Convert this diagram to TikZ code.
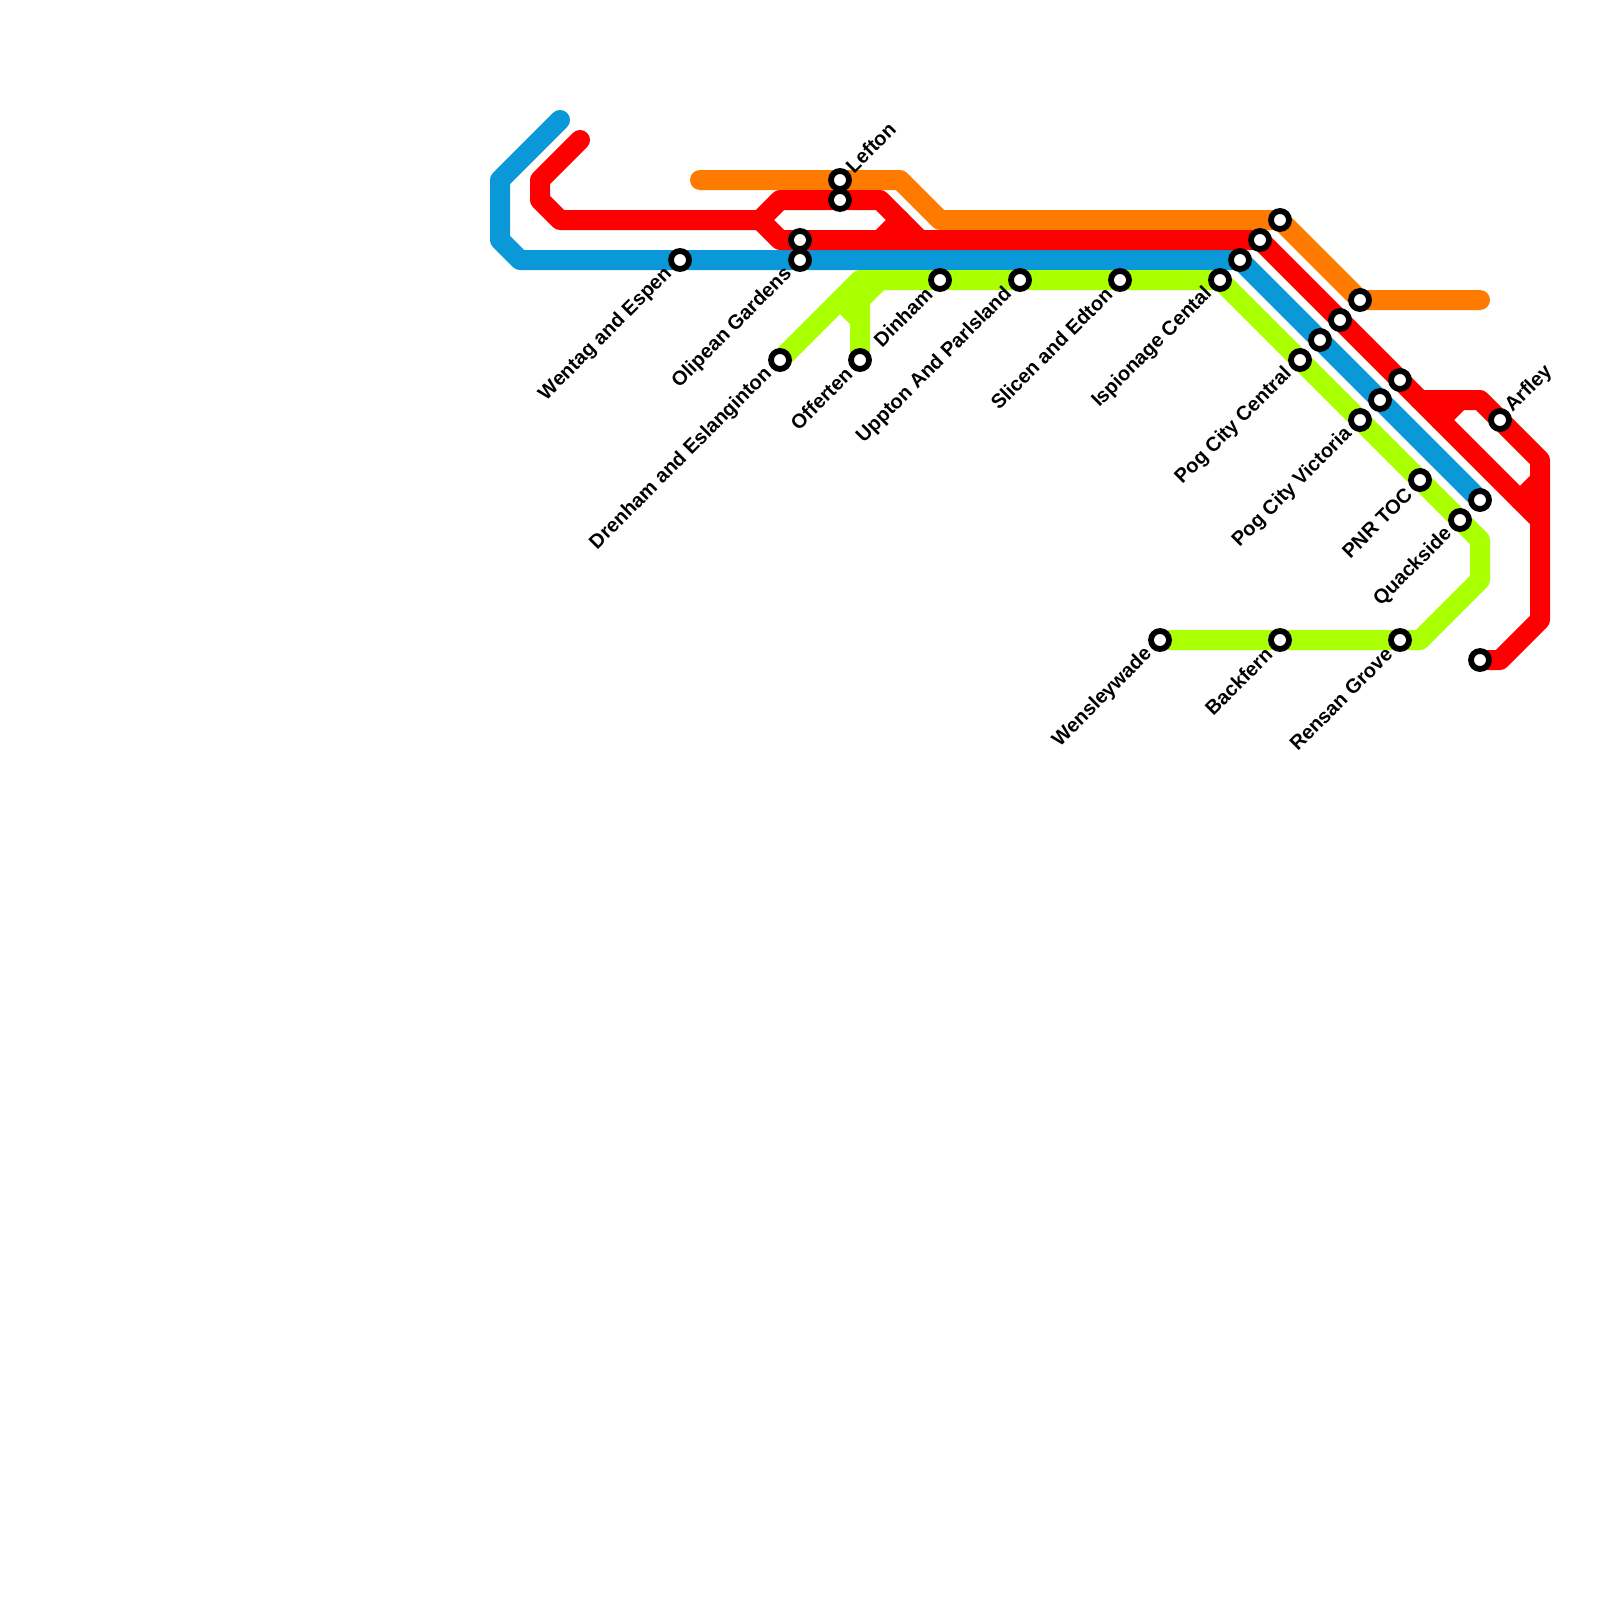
\documentclass[tikz,border=0pt]{standalone}
\usepackage{fontspec}
\setmainfont{Liberation Sans}[BoldFont={Liberation Sans Bold}]
\usetikzlibrary{backgrounds}
\definecolor{lorange}{HTML}{FF7B00}
\definecolor{lred}{HTML}{FF0000}
\definecolor{lblue}{HTML}{0B98D8}
\definecolor{lgreen}{HTML}{AAFF00}
\tikzset{
  metro/.style={line width=10pt,line cap=round,line join=round},
  stn/.style={circle,draw=black,fill=white,line width=2.9pt,minimum size=9pt,inner sep=0pt,outer sep=0pt},
  lbl/.style={font=\fontsize{10}{12}\selectfont\bfseries,text=black,inner sep=0pt,outer sep=0pt,rotate=45},
  lblL/.style={lbl,anchor=east},
  lblR/.style={lbl,anchor=west}
}
\newcommand{\stnL}[4]{\node[stn] (#1) at (#2,#3) {};\node[lblL] (#1T) at ([shift={(-11.2,11.2)}]#1.center) {#4};}
\newcommand{\stnR}[4]{\node[stn] (#1) at (#2,#3) {};\node[lblR] (#1T) at ([shift={(9,-11)}]#1.center) {#4};}
\newcommand{\stnP}[3]{\node[stn] (#1) at (#2,#3) {};}
\begin{document}
\begin{tikzpicture}[x=0.5pt,y=-0.5pt]
\useasboundingbox (0,0) rectangle (1600,1600);
% stations
\stnL{wentag}{680}{260}{Wentag and Espen}
\stnL{olipean}{800}{260}{Olipean Gardens}
\stnP{olipeanR}{800}{240}
\stnR{lefton}{840}{180}{Lefton}
\stnP{leftonR}{840}{200}
\stnL{drenham}{780}{360}{Drenham and Eslanginton}
\stnL{offerten}{860}{360}{Offerten}
\stnL{dinham}{940}{280}{Dinham}
\stnL{uppton}{1020}{280}{Uppton And Parlsland}
\stnL{slicen}{1120}{280}{Slicen and Edton}
\stnL{ispionage}{1220}{280}{Ispionage Cental}
\stnP{ispB}{1240}{260}
\stnP{ispR}{1260}{240}
\stnP{ispO}{1280}{220}
\stnL{pogc}{1300}{360}{Pog City Central}
\stnP{pogcB}{1320}{340}
\stnP{pogcR}{1340}{320}
\stnP{pogcO}{1360}{300}
\stnL{pogv}{1360}{420}{Pog City Victoria}
\stnP{pogvB}{1380}{400}
\stnP{pogvR}{1400}{380}
\stnL{pnr}{1420}{480}{PNR TOC}
\stnL{quack}{1460}{520}{Quackside}
\stnP{quackB}{1480}{500}
\stnR{arfley}{1500}{420}{Arfley}
\stnL{wensley}{1160}{640}{Wensleywade}
\stnL{backfern}{1280}{640}{Backfern}
\stnL{rensan}{1400}{640}{Rensan Grove}
\stnP{redend}{1480}{660}
% waypoints
\coordinate (b0) at (560,120); \coordinate (b1) at (500,180); \coordinate (b2) at (500,240); \coordinate (b3) at (520,260);
\coordinate (o0) at (700,180); \coordinate (o1) at (900,180); \coordinate (o2) at (940,220); \coordinate (o3) at (1480,300);
\coordinate (r0) at (580,140); \coordinate (r1) at (540,180); \coordinate (r2) at (540,200); \coordinate (r3) at (560,220);
\coordinate (r4) at (760,220); \coordinate (r5) at (780,200); \coordinate (r6) at (880,200); \coordinate (r7) at (920,240);
\coordinate (r8) at (780,240); \coordinate (r9) at (900,220); \coordinate (r10) at (880,240);
\coordinate (r11) at (1420,400); \coordinate (r12) at (1480,400); \coordinate (r13) at (1540,460); \coordinate (r14) at (1540,620);
\coordinate (r15) at (1500,660); \coordinate (r16) at (1540,520); \coordinate (r17) at (1440,420); \coordinate (r18) at (1460,400);
\coordinate (r19) at (1520,500); \coordinate (r20) at (1540,480);
\coordinate (g0) at (860,280); \coordinate (g1) at (1480,540); \coordinate (g2) at (1480,580); \coordinate (g3) at (1420,640);
\coordinate (g4) at (860,300); \coordinate (g5) at (880,280); \coordinate (g6) at (840,300); \coordinate (g7) at (860,320);
\begin{pgfonlayer}{background}
\draw[metro,lorange] (o0) -- (o1) -- (o2) -- (ispO.center) -- (pogcO.center) -- (o3);
\draw[metro,lblue] (b0) -- (b1) -- (b2) -- (b3) -- (ispB.center) -- (quackB.center);
\draw[metro,lgreen] (drenham.center) -- (g0) -- (ispionage.center) -- (g1) -- (g2) -- (g3) -- (wensley.center);
\draw[metro,lgreen] (offerten.center) -- (g4) -- (g5);
\draw[metro,lgreen] (g6) -- (g7);
\draw[metro,lred] (r0) -- (r1) -- (r2) -- (r3) -- (r4) -- (r5) -- (r6) -- (r7);
\draw[metro,lred] (r4) -- (r8) -- (ispR.center) -- (r11) -- (r16);
\draw[metro,lred] (r9) -- (r10);
\draw[metro,lred] (r11) -- (r12) -- (r13) -- (r14) -- (r15) -- (redend.center);
\draw[metro,lred] (r17) -- (r18);
\draw[metro,lred] (r19) -- (r20);
\end{pgfonlayer}
\end{tikzpicture}
\end{document}
